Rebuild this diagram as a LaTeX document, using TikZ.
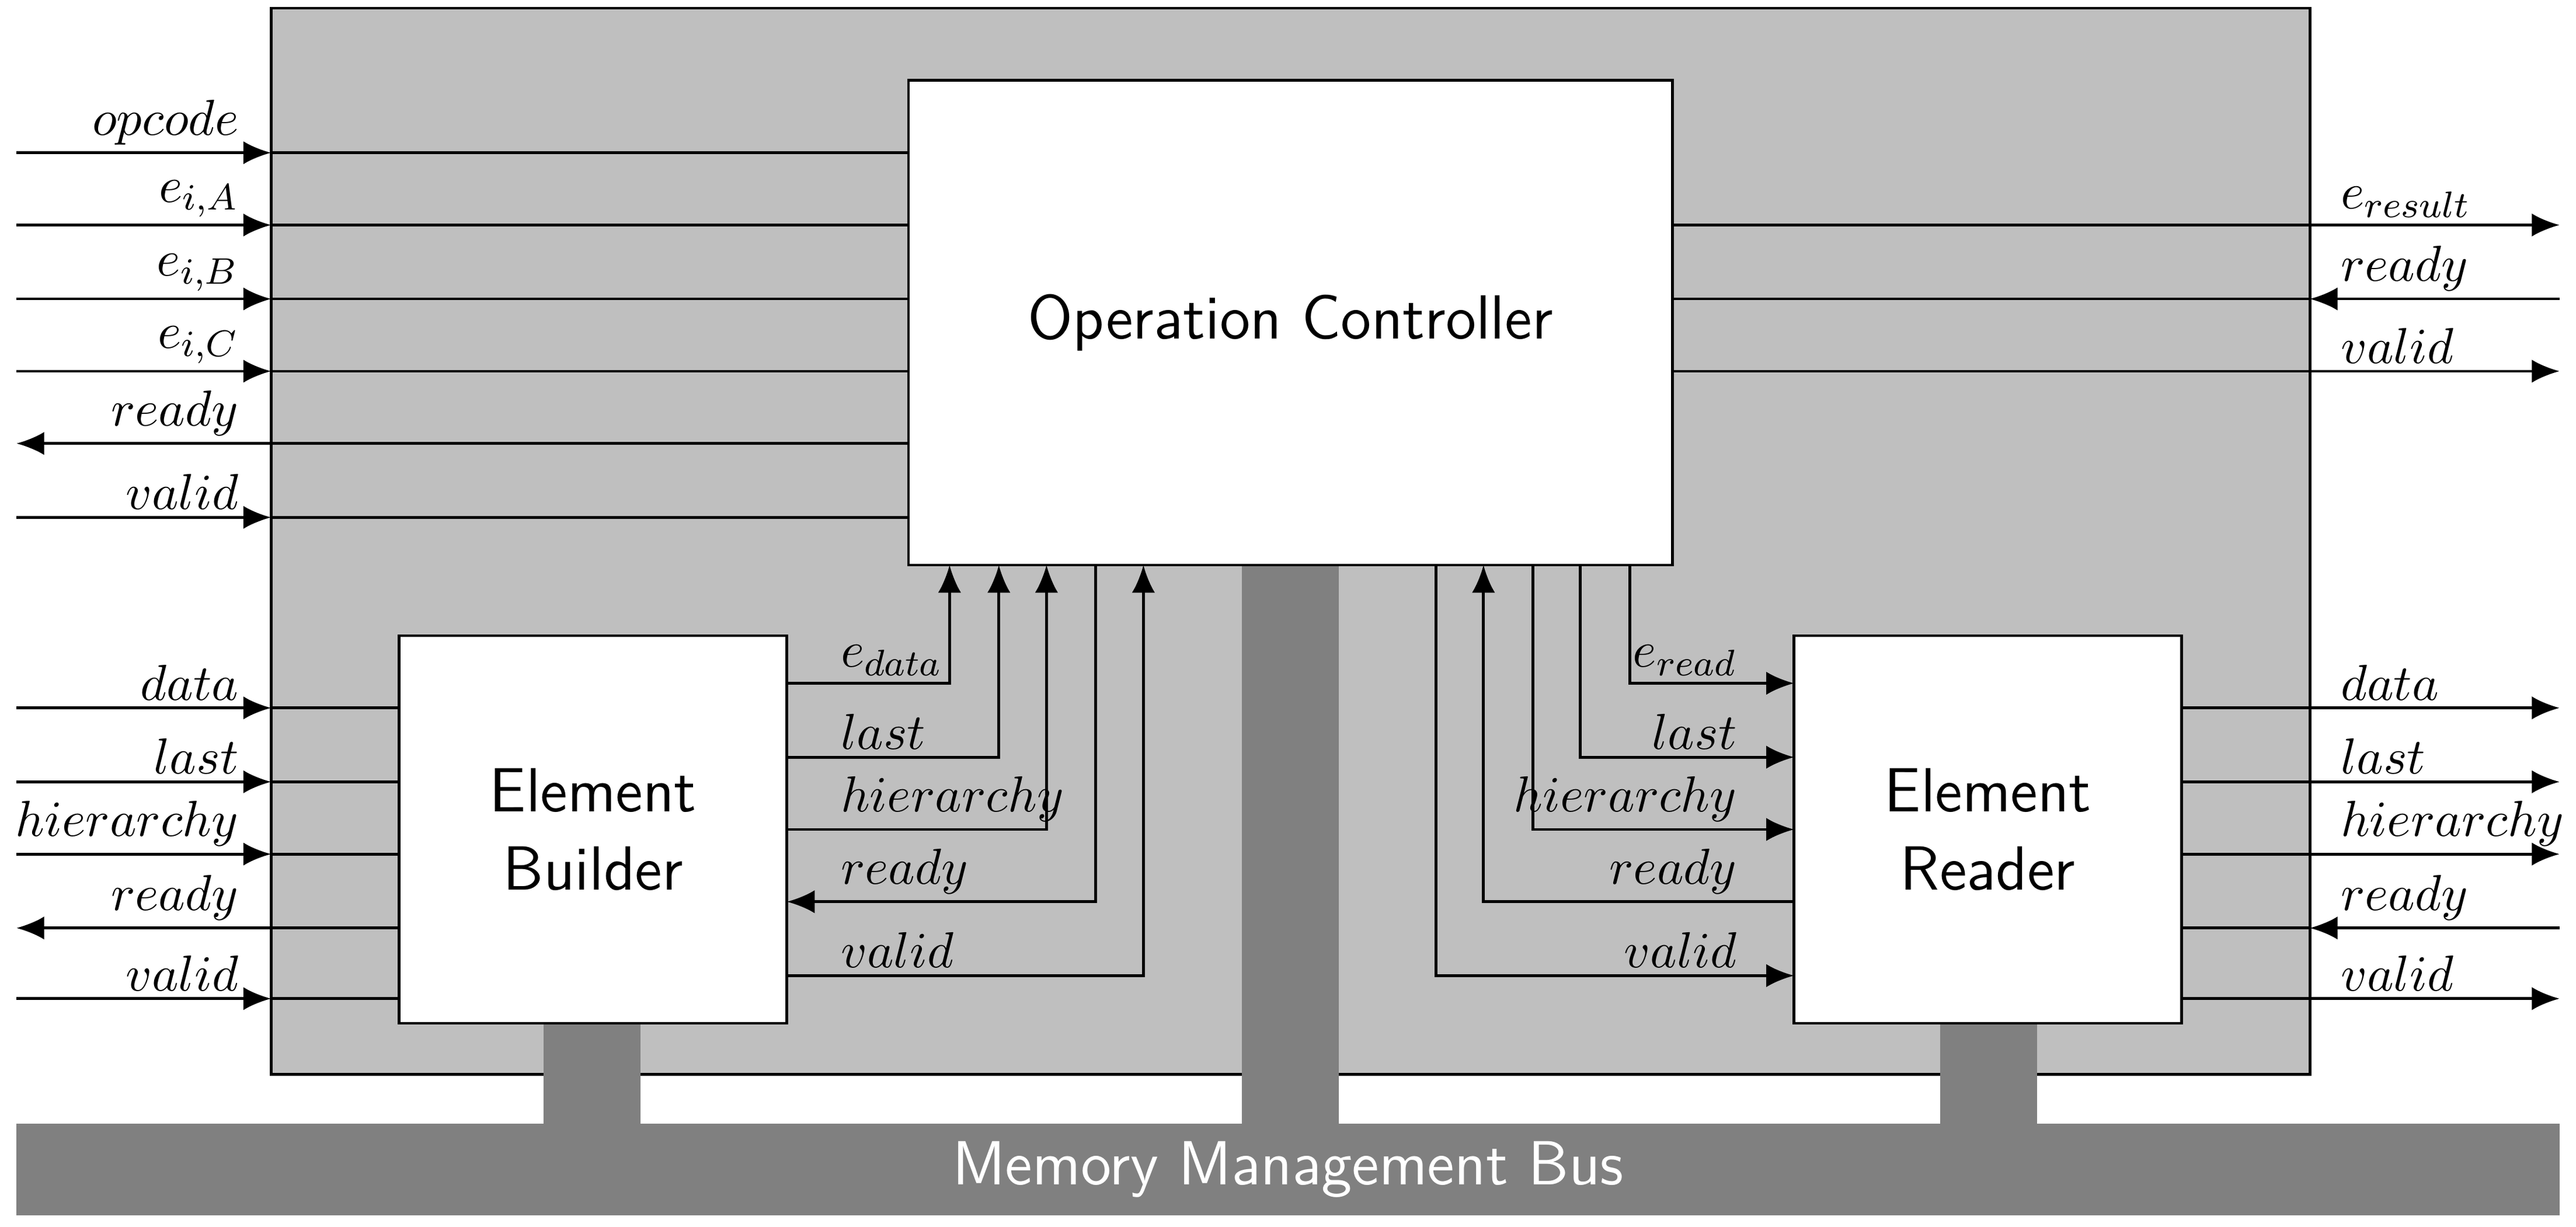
\documentclass[tikz,border=0pt]{standalone}
\usetikzlibrary{arrows.meta}
\begin{document}
\begin{tikzpicture}[x=0.0125cm,y=-0.0125cm,
  box/.style={draw,fill=white,line width=0.6pt},
  sig/.style={line width=0.6pt},
  ar/.style={sig,-{Latex[length=6pt,width=5pt]}},
  lbl/.style={font=\fontsize{11}{13}\selectfont,inner sep=1.5pt},
  big/.style={font=\sffamily\fontsize{13.5}{17}\selectfont,align=center}]
\useasboundingbox (0,0) rectangle (1568,747);
% background
\fill[gray!50,draw=black,line width=0.6pt] (165,5) rectangle (1406,654);
% pillars and bus
\fill[gray] (331,620) rectangle (390,690);
\fill[gray] (756,340) rectangle (815,690);
\fill[gray] (1181,620) rectangle (1240,690);
\node[fill=gray,minimum width=1548*0.0125cm,minimum height=56*0.0125cm,inner sep=0,text=white,font=\sffamily\fontsize{13.5}{17}\selectfont] (bus) at (784,712) {Memory Management Bus};
% boxes
\node[box,minimum width=465*0.0125cm,minimum height=295*0.0125cm,big] (oc) at (785.5,196.5) {Operation Controller};
\node[box,minimum width=236*0.0125cm,minimum height=236*0.0125cm,big] (eb) at (361,505) {Element\\Builder};
\node[box,minimum width=236*0.0125cm,minimum height=236*0.0125cm,big] (er) at (1210,505) {Element\\Reader};
% left inputs to controller
\foreach \y/\t in {93/opcode,137/{e_{i,A}},182/{e_{i,B}},226/{e_{i,C}},315/valid}{
  \draw[ar] (10,\y) -- (165,\y); \draw[sig] (165,\y) -- (553,\y);
  \node[lbl,anchor=south east] at (150,\y) {$\t$};}
\draw[sig] (553,270) -- (165,270); \draw[ar] (165,270) -- (10,270);
\node[lbl,anchor=south east] at (150,270) {$ready$};
% right outputs controller
\draw[sig] (1018,137) -- (1406,137); \draw[ar] (1406,137) -- (1558,137);
\node[lbl,anchor=south west] at (1420,137) {$e_{result}$};
\draw[ar] (1558,182) -- (1406,182); \draw[sig] (1406,182) -- (1018,182);
\node[lbl,anchor=south west] at (1420,182) {$ready$};
\draw[sig] (1018,226) -- (1406,226); \draw[ar] (1406,226) -- (1558,226);
\node[lbl,anchor=south west] at (1420,226) {$valid$};
% builder left
\foreach \y/\t in {431/data,476/last,520/hierarchy,608/valid}{
  \draw[ar] (10,\y) -- (165,\y); \draw[sig] (165,\y) -- (243,\y);
  \node[lbl,anchor=south east] at (150,\y) {$\t$};}
\draw[sig] (243,565) -- (165,565); \draw[ar] (165,565) -- (10,565);
\node[lbl,anchor=south east] at (150,565) {$ready$};
% reader right
\foreach \y/\t in {431/data,476/last,520/hierarchy,608/valid}{
  \draw[ar] (1328,\y) -- (1558,\y);
  \node[lbl,anchor=south west] at (1420,\y) {$\t$};}
\draw[ar] (1558,565) -- (1406,565); \draw[sig] (1406,565) -- (1328,565);
\node[lbl,anchor=south west] at (1420,565) {$ready$};
% builder to controller
\foreach \y/\x/\t in {416/578/{e_{data}},461/608/last,505/637/hierarchy,594/696/valid}{
  \draw[ar] (479,\y) -| (\x,344);
  \node[lbl,anchor=south west] at (507,\y) {$\t$};}
\draw[ar] (667,344) |- (479,549);
\node[lbl,anchor=south west] at (507,549) {$ready$};
% controller to reader
\foreach \y/\x/\t in {416/992/{e_{read}},461/962/last,505/933/hierarchy,594/874/valid}{
  \draw[ar] (\x,344) |- (1092,\y);
  \node[lbl,anchor=south east] at (1062,\y) {$\t$};}
\draw[ar] (1092,549) -| (903,344);
\node[lbl,anchor=south east] at (1062,549) {$ready$};
\end{tikzpicture}
\end{document}
